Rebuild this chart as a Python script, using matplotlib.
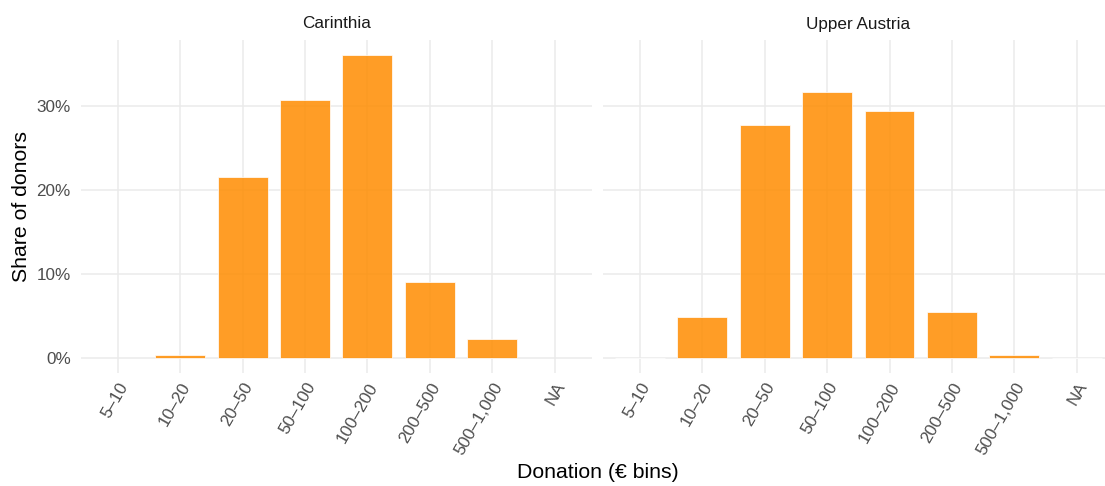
import numpy as np
import matplotlib
matplotlib.use("Agg")
import matplotlib.pyplot as plt

plt.rcParams["font.family"] = ["Liberation Sans", "DejaVu Sans"]

# data (share of donors, %)
bins = ["5–10", "10–20", "20–50", "50–100", "100–200", "200–500", "500–1,000", "NA"]
regions = ["Carinthia", "Upper Austria"]
carinthia = [np.nan, 0.4, 21.5, 30.7, 36.0, 9.0, 2.25, np.nan]
upper_austria = [0.0, 4.85, 27.7, 31.6, 29.4, 5.4, 0.3, 0.0]
yticks = [0, 10, 20, 30]

W, H = 1105, 486
fig = plt.figure(figsize=(W / 100, H / 100), dpi=100)
grid_col = "#EBEBEB"
bar_col = "darkorange"

panels = [(80.5, carinthia), (602.6, upper_austria)]
x = np.arange(len(bins))
for i, ((left_px, vals), name) in enumerate(zip(panels, regions)):
    ax = fig.add_axes([left_px / W, 1 - 373 / H, 511.5 / W, 333 / H])
    ax.set_facecolor("white")
    for s in ax.spines.values():
        s.set_visible(False)
    ax.set_axisbelow(True)
    ax.grid(True, color=grid_col, lw=1.1)
    ax.bar(x, vals, width=0.8, color=bar_col, alpha=0.85,
           edgecolor="white", linewidth=0.6)
    ax.set_xlim(-0.6, len(bins) - 0.4)
    ax.set_ylim(-1.8, 37.8)
    ax.set_xticks(x)
    ax.set_xticklabels(bins, rotation=60, ha="right", va="top",
                       rotation_mode="anchor", fontsize=12.3, color="#4D4D4D")
    ax.set_yticks(yticks)
    if i == 0:
        ax.set_yticklabels([f"{t}%" for t in yticks], fontsize=12.3, color="#4D4D4D")
    else:
        ax.set_yticklabels([])
    ax.tick_params(axis="both", length=0)
    ax.tick_params(axis="y", pad=7)
    ax.tick_params(axis="x", pad=5)
    ax.text(0.5, 1 + 16 / 333, name, transform=ax.transAxes, ha="center",
            va="center", fontsize=12.3, color="#1A1A1A")

fig.text(22 / W, 1 - 206 / H, "Share of donors", rotation=90, ha="center",
         va="center", fontsize=15.3, color="black")
fig.text(598 / W, 1 - 472 / H, "Donation (€ bins)", ha="center", va="center",
         fontsize=15.3, color="black")

fig.savefig("out.png", dpi=100, facecolor="white")
